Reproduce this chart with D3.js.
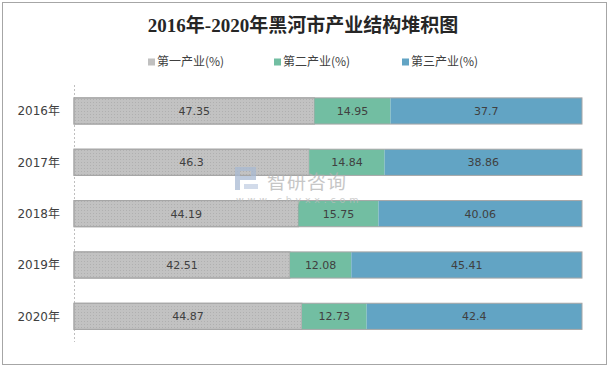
<!DOCTYPE html>
<html><head><meta charset="utf-8">
<script src="https://cdn.jsdelivr.net/npm/d3@7"></script>
<style>body{margin:0;background:#fff}</style>
</head><body>
<svg id="c" width="610" height="370"></svg>
<script>
const years = ["2016年","2017年","2018年","2019年","2020年"];
const seriesNames = ["第一产业(%)","第二产业(%)","第三产业(%)"];
const primary = [47.35,46.3,44.19,42.51,44.87];
const secondary = [14.95,14.84,15.75,12.08,12.73];
const tertiary = [37.7,38.86,40.06,45.41,42.4];
const colors = ["#c0c0c0","#72bea2","#62a4c4"];

const svg = d3.select("#c");
const defs = svg.append("defs");
const pat = defs.append("pattern").attr("id","dots").attr("width",3).attr("height",3).attr("patternUnits","userSpaceOnUse");
pat.append("rect").attr("width",3).attr("height",3).attr("fill","#c2c2c2");
pat.append("rect").attr("x",0).attr("y",0).attr("width",1).attr("height",1).attr("fill","#b0b0b0");

svg.append("rect").attr("x",2.5).attr("y",2.5).attr("width",604).attr("height",362).attr("fill","#fff").attr("stroke","#a6a6a6").attr("stroke-width",1);

svg.append("text").attr("x",303).attr("y",32).attr("text-anchor","middle")
  .attr("font-family","'Liberation Serif','Noto Sans CJK SC',serif").attr("font-size",19).attr("font-weight","bold").attr("fill","#262626")
  .text("2016年-2020年黑河市产业结构堆积图");

const x = d3.scaleLinear().domain([0,100]).range([74,582]);
const y = d3.scaleBand().domain(years).range([85.3,342]).paddingInner(0.49).paddingOuter(0.245);

const data = years.map((yr,i)=>({year:yr, vals:[primary[i],secondary[i],tertiary[i]]}));
const stack = d3.stack().keys([0,1,2]).value((d,k)=>d.vals[k]);
const layers = stack(data);

svg.append("line").attr("x1",74.5).attr("x2",74.5).attr("y1",85).attr("y2",342).attr("stroke","#bfbfbf").attr("stroke-dasharray","2,2");

const g = svg.append("g");
layers.forEach((layer,k)=>{
  g.selectAll(null).data(layer).join("rect")
    .attr("x",d=>x(d[0])).attr("y",d=>y(d.data.year))
    .attr("width",d=>x(d[1])-x(d[0])).attr("height",y.bandwidth())
    .attr("fill",k===0?"url(#dots)":colors[k])
    .attr("stroke",k===0?"#a6a6a6":"none").attr("stroke-width",1);
});
g.selectAll(null).data(data).join("rect")
  .attr("x",x(0)).attr("y",d=>y(d.year)).attr("width",x(100)-x(0)).attr("height",y.bandwidth())
  .attr("fill","none").attr("stroke","#a6a6a6").attr("stroke-width",1);

layers.forEach((layer,k)=>{
  g.selectAll(null).data(layer).join("text")
    .attr("x",d=>(x(d[0])+x(d[1]))/2).attr("y",d=>y(d.data.year)+y.bandwidth()/2+4)
    .attr("text-anchor","middle").attr("font-family","'DejaVu Sans',sans-serif").attr("font-size",11).attr("fill","#404040")
    .text((d,i)=>d.data.vals[k]);
});

// watermark (drawn over bars, semi-transparent)
const wm = svg.append("g").attr("opacity",0.75);
wm.append("rect").attr("x",235).attr("y",167).attr("width",21).attr("height",4).attr("fill","#a9bad3");
wm.append("rect").attr("x",251).attr("y",167).attr("width",5).attr("height",13).attr("fill","#a9bad3");
wm.append("rect").attr("x",235).attr("y",176).attr("width",21).attr("height",4).attr("fill","#a9bad3");
wm.append("rect").attr("x",235).attr("y",167).attr("width",5).attr("height",23).attr("fill","#a9bad3");
wm.append("rect").attr("x",244).attr("y",184).attr("width",14).attr("height",5).attr("fill","#c3d0e3");
wm.append("text").attr("x",267).attr("y",189).attr("font-family","'Noto Sans CJK SC'").attr("font-size",19).attr("fill","#b4b4b4").attr("letter-spacing",1).text("智研咨询");
wm.append("text").attr("x",236).attr("y",203).attr("font-family","'DejaVu Sans'").attr("font-size",9.5).attr("fill","#bdbdbd").attr("letter-spacing",3.8).text("www.chyxx.com");

const yAxis = svg.append("g").attr("transform","translate(60,0)").call(d3.axisLeft(y).tickSize(0).tickPadding(0));
yAxis.select(".domain").remove();
yAxis.selectAll("text").attr("font-family","'DejaVu Sans','Noto Sans CJK SC'").attr("font-size",12).attr("fill","#404040").attr("dy","0.35em");

const legX = [148,274,402];
const leg = svg.append("g");
seriesNames.forEach((n,k)=>{
  leg.append("rect").attr("x",legX[k]).attr("y",58.5).attr("width",7).attr("height",7).attr("fill",colors[k]);
  leg.append("text").attr("x",legX[k]+9).attr("y",66).attr("font-family","'Noto Sans CJK SC'").attr("font-size",12).attr("fill","#404040").text(n);
});
</script>
</body></html>
